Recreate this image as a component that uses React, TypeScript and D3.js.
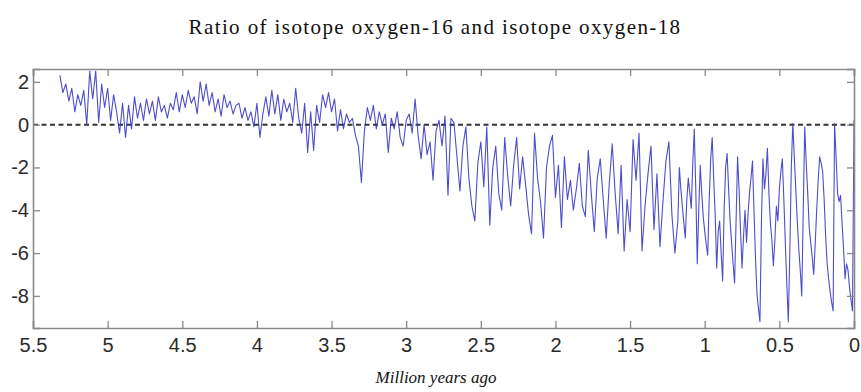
import React, { useRef, useEffect } from "react";
import * as d3 from "d3";

// benthic d18O anomaly
// 5.32 -> 2.72 Myr, every 0.02 Myr
const pliocene = [
  2.3, 1.5, 1.9, 1.1, 1.7, 0.6, 1.4, 0.9, 1.6, 0.0,
  2.5, 1.2, 2.5, 0.1, 1.9, 0.8, 1.7, 0.2, 1.4, 0.6,
  -0.4, 1.0, -0.6, 0.9, -0.2, 1.3, 0.3, 1.0, 0.2, 1.2,
  0.5, 1.1, 0.2, 1.3, 0.6, 0.9, 0.3, 1.0, 0.7, 1.5,
  0.6, 1.4, 0.8, 1.6, 1.0, 1.3, 0.5, 2.0, 1.1, 1.9,
  0.9, 1.5, 0.6, 1.2, 0.4, 1.4, 0.8, 1.1, 0.5, 0.9,
  1.0, 0.3, 0.8, 0.2, 0.6, -0.1, 1.0, -0.6, 0.5, 1.3,
  0.4, 1.6, 0.5, 1.4, 0.2, 1.2, 0.6, 1.0, 0.1, 1.7,
  0.3, -0.4, 1.0, -1.3, 0.6, -1.2, 0.9, 0.1, 1.4, 0.8,
  1.5, 0.6, 1.2, -0.3, 0.7, -0.2, 0.5, 0.1, 0.3, -0.5,
  -1.0, -2.7, -0.3, 0.8, 0.2, 0.9, -0.2, 0.6, 0.0, 0.5,
  -1.3, 0.3, -0.2, 0.6, -0.6, -1.0, 0.2, 0.5, -0.4, 1.2,
  -0.5, -1.6, 0.0, -1.4, -0.8, -2.6, -0.3, 0.2, -1.0, 0.4,
  -3.3,
];

// 2.70 -> 1.20 Myr, every 0.02 Myr
const earlyPleistocene = [
  0.3, 0.1, -1.5, -3.1, -1.0, -0.1, -2.5, -3.8, -4.5, -1.8,
  -0.8, -2.9, -0.1, -4.7, -2.0, -1.0, -3.2, -4.0, -0.6, -2.4,
  -3.8, -1.9, -0.6, -3.0, -1.5, -2.8, -4.2, -5.1, -0.4, -2.5,
  -3.6, -5.3, -2.0, -1.0, -0.5, -3.4, -1.9, -4.8, -1.5, -3.5,
  -2.6, -4.0, -3.0, -1.8, -3.8, -4.3, -1.2, -3.2, -5.0, -2.5,
  -1.6, -3.5, -5.3, -2.8, -0.9, -3.2, -5.1, -1.9, -5.9, -3.5,
  -5.0, -0.7, -2.6, -0.4, -5.9, -3.8, -2.3, -1.0, -4.9, -2.3,
  -5.7, -3.6, -1.7, -0.8, -4.2, -6.0,
];

// 1.18 -> 0.00 Myr, every 0.01 Myr
const latePleistocene = [
  -4.5, -2.0, -3.0, -3.8, -4.6, -5.3, -3.5, -2.5, -3.2, -3.9,
  -1.8, -0.2, -3.0, -6.5, -4.0, -1.9, -3.2, -4.3, -5.0, -5.6,
  -6.1, -3.5, -1.6, -0.6, -2.5, -4.2, -6.7, -5.0, -4.5, -6.0,
  -7.3, -4.0, -2.0, -1.35, -3.0, -4.5, -5.5, -6.5, -7.4, -4.5,
  -1.5, -3.0, -5.0, -6.7, -5.2, -4.0, -5.5, -4.2, -3.2, -2.5,
  -1.7, -4.0, -6.2, -7.9, -8.6, -9.2, -4.5, -1.6, -3.0, -2.3,
  -1.1, -3.2, -4.6, -5.4, -6.6, -5.4, -3.8, -4.5, -3.0, -2.2,
  -1.6, -3.5, -5.5, -7.5, -9.2, -6.0, -2.0, 0.05, -1.5, -3.0,
  -4.5, -5.8, -6.8, -8.0, -4.0, -0.1, -1.8, -3.2, -4.8, -5.5,
  -6.2, -7.0, -5.6, -4.0, -2.6, -1.5, -1.8, -2.2, -3.5, -5.2,
  -6.5, -7.2, -7.8, -8.3, -8.7, 0.05, -1.5, -3.2, -3.6, -3.3,
  -4.6, -5.8, -7.2, -6.5, -6.8, -7.6, -8.2, -8.7, 0.2,
];

const xTicks = [5.5, 5, 4.5, 4, 3.5, 3, 2.5, 2, 1.5, 1, 0.5, 0];
const yTicks = [2, 0, -2, -4, -6, -8];

const W = 861;
const H = 392;

const Chart = () => {
  const svgRef = useRef<SVGSVGElement>(null);

  useEffect(() => {
    const svg = d3.select(svgRef.current);
    svg.selectAll("*").remove();

    const left = 33, right = 854, top = 69, bottom = 328;

    const pts: [number, number][] = [];
    pliocene.forEach((v, i) => pts.push([5.32 - i * 0.02, v]));
    earlyPleistocene.forEach((v, i) => pts.push([2.7 - i * 0.02, v]));
    latePleistocene.forEach((v, i) => pts.push([1.18 - i * 0.01, v]));

    const x = d3.scaleLinear().domain([5.5, 0]).range([left, right]);
    const y = d3.scaleLinear().domain([-9.5, 2.6]).range([bottom, top]);

    svg.append("rect")
      .attr("width", W)
      .attr("height", H)
      .attr("fill", "#fff");

    // zero line
    svg.append("line")
      .attr("x1", left)
      .attr("x2", right)
      .attr("y1", y(0))
      .attr("y2", y(0))
      .attr("stroke", "#333")
      .attr("stroke-width", 2)
      .attr("stroke-dasharray", "5,3.5");

    const line = d3.line<[number, number]>()
      .x(d => x(d[0]))
      .y(d => y(d[1]));

    svg.append("path")
      .datum(pts)
      .attr("d", line)
      .attr("fill", "none")
      .attr("stroke", "#3a3ac8")
      .attr("stroke-width", 1.1)
      .attr("stroke-linejoin", "round")
      .attr("opacity", 0.9);

    const axisCol = "#8a8a8a";
    const tick = 7;

    const bx = svg.append("g").attr("transform", `translate(0,${bottom})`)
      .call(d3.axisBottom(x).tickValues(xTicks).tickSize(-tick).tickPadding(10)
        .tickFormat(d => String(d)));
    const tx = svg.append("g").attr("transform", `translate(0,${top})`)
      .call(d3.axisTop(x).tickValues(xTicks).tickSize(-tick).tickFormat(() => ""));
    const ly = svg.append("g").attr("transform", `translate(${left},0)`)
      .call(d3.axisLeft(y).tickValues(yTicks).tickSize(-tick).tickPadding(4)
        .tickFormat(d => String(d)));
    const ry = svg.append("g").attr("transform", `translate(${right},0)`)
      .call(d3.axisRight(y).tickValues(yTicks).tickSize(-tick).tickFormat(() => ""));

    [bx, tx, ly, ry].forEach(g => {
      g.select(".domain").attr("stroke", axisCol).attr("stroke-width", 1.6);
      g.selectAll(".tick line").attr("stroke", axisCol).attr("stroke-width", 1.3);
      g.selectAll(".tick text")
        .attr("fill", "#2a2a2a")
        .style("font-family", "Liberation Sans, Arial, sans-serif")
        .style("font-size", "20px");
    });

    svg.append("text")
      .attr("x", 435)
      .attr("y", 34)
      .attr("text-anchor", "middle")
      .attr("fill", "#111")
      .style("font-family", "Liberation Serif, Times New Roman, serif")
      .style("font-size", "21px")
      .style("letter-spacing", "1.4px")
      .text("Ratio of isotope oxygen-16 and isotope oxygen-18");

    svg.append("text")
      .attr("x", 436)
      .attr("y", 383)
      .attr("text-anchor", "middle")
      .attr("fill", "#111")
      .style("font-family", "Liberation Serif, Times New Roman, serif")
      .style("font-style", "italic")
      .style("font-size", "17px")
      .text("Million years ago");
  }, []);

  return (
    <svg
      ref={svgRef}
      width={W}
      height={H}
      style={{ position: "absolute", left: 0, top: 0 }}
    />
  );
};

export default function App() {
  return <Chart />;
}
